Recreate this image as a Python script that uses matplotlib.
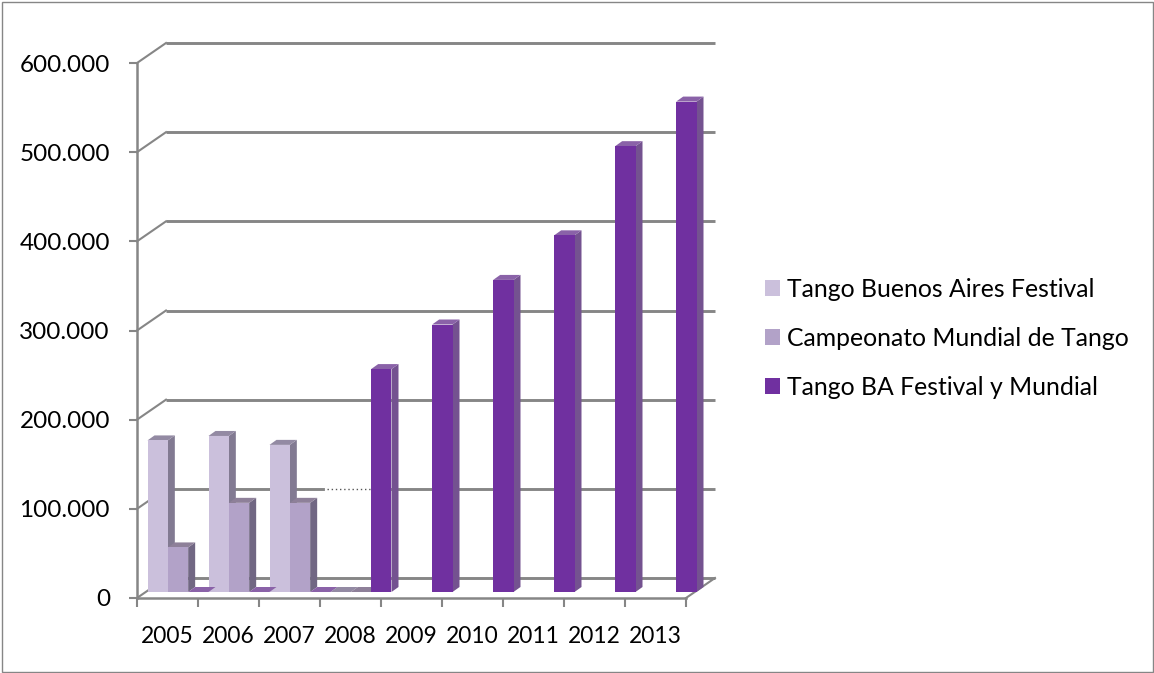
import matplotlib
matplotlib.use("Agg")
import matplotlib.pyplot as plt
from matplotlib.patches import Rectangle
from matplotlib.ticker import FuncFormatter

years = ["2005", "2006", "2007", "2008", "2009", "2010", "2011", "2012", "2013"]
# None = no value that year (no mark at all), 0 = flat bar
festival = [170000, 175000, 165000, 0, None, None, None, None, None]
campeonato = [50000, 100000, 100000, 0, None, None, None, None, None]
festival_mundial = [0, 0, 0, 250000, 300000, 350000, 400000, 500000, 550000]
y_ticks = [0, 100000, 200000, 300000, 400000, 500000, 600000]

series_names = ["Tango Buenos Aires Festival", "Campeonato Mundial de Tango", "Tango BA Festival y Mundial"]
front_colors = ["#CBC0DC", "#B2A2C8", "#7030A0"]
side_colors = ["#827A92", "#716783", "#745290"]
top_colors = ["#938AA3", "#8E8099", "#8A62A8"]

GREY = "#868686"
W, H = 1154, 673
PX_X = 1 / 61.0       # one pixel in category units
PX_Y = 1000 / 0.892   # one pixel in value units

plt.rcParams["font.family"] = ["Lato", "DejaVu Sans"]
fig = plt.figure(figsize=(W / 100, H / 100), dpi=100)
ax = fig.add_axes([137 / W, (H - 598) / H, 549 / W, 535 / H])
ax.set_xlim(0, len(years))
ax.set_ylim(0, 600000)

# outer frame
fig.add_artist(Rectangle((1.5 / W, 1.5 / H), (W - 3) / W, (H - 3) / H, transform=fig.transFigure,
                         fill=False, edgecolor=GREY, linewidth=1))

# back wall lines and the diagonals from the left axis
back_dx, back_dy = 29 * PX_X, 20 * PX_Y
for v in y_ticks:
    ax.plot([back_dx, len(years) + back_dx], [v + back_dy, v + back_dy], color=GREY, lw=2.1,
            clip_on=False, zorder=1, solid_capstyle="butt")
    ax.plot([0, back_dx], [v, v + back_dy], color=GREY, lw=1.5, clip_on=False, zorder=1)
ax.plot([len(years), len(years) + back_dx], [0, back_dy], color=GREY, lw=1.5, clip_on=False, zorder=1)

# the 100.000 line fades to dots just before the 2008 bar
gap = [3.11, 3.82]
ax.plot(gap, [100000 + back_dy] * 2, color="white", lw=3, clip_on=False, zorder=1.5)
ax.plot(gap, [100000 + back_dy] * 2, color="#555555", lw=1, ls=(0, (1, 2)), clip_on=False, zorder=1.5)

# bars: front face through ax.bar, side and top as parallelograms
bar_w = 1 / 3
shift_x, shift_y = 10.5 * PX_X, 6 * PX_Y
depth_x, depth_y = 7 * PX_X, 5 * PX_Y
all_series = [festival, campeonato, festival_mundial]
handles = []
for s, values in enumerate(all_series):
    lefts = [i + s * bar_w + shift_x for i in range(len(years))]
    z = 3 + s * 0.1
    shown_x = [l for l, v in zip(lefts, values) if v is not None]
    shown_v = [v for v in values if v is not None]
    for left, v in zip(shown_x, shown_v):
        base = shift_y
        ax.fill([left + bar_w, left + bar_w + depth_x, left + bar_w + depth_x, left + bar_w],
                [base, base + depth_y, base + v + depth_y, base + v],
                color=side_colors[s], lw=0, clip_on=False, zorder=z)
        ax.fill([left, left + depth_x, left + bar_w + depth_x, left + bar_w],
                [base + v, base + v + depth_y, base + v + depth_y, base + v],
                color=top_colors[s], lw=0, clip_on=False, zorder=z)
    bars = ax.bar(shown_x, shown_v, width=bar_w, bottom=shift_y, align="edge", color=front_colors[s],
                  label=series_names[s], clip_on=False, zorder=z + 0.05)
    handles.append(bars)

# axes
ax.patch.set_visible(False)
for side in ["top", "right"]:
    ax.spines[side].set_visible(False)
for side in ["left", "bottom"]:
    ax.spines[side].set_color(GREY)
    ax.spines[side].set_linewidth(1.8)

ax.set_yticks(y_ticks)
ax.yaxis.set_major_formatter(FuncFormatter(lambda v, p: f"{int(v):,}".replace(",", ".")))
ax.set_xticks(range(len(years) + 1))
ax.set_xticklabels([])
ax.set_xticks([i + 0.5 for i in range(len(years))], minor=True)
ax.set_xticklabels(years, minor=True)
ax.tick_params(axis="x", which="major", length=6.5, width=1.5, color=GREY)
ax.tick_params(axis="x", which="minor", length=0, pad=20, labelsize=16.4, labelcolor="black")
ax.tick_params(axis="y", length=5.5, width=1.5, color=GREY, pad=14, labelsize=17.5)

fig.legend(handles=handles, labels=series_names, loc="upper left", bbox_to_anchor=(755 / W, (H - 268) / H),
           frameon=False, fontsize=17.8, handlelength=0.6, handleheight=0.6, handletextpad=0.28,
           labelspacing=1.05, borderaxespad=0, borderpad=0.4)

fig.savefig("out.png", dpi=100)
